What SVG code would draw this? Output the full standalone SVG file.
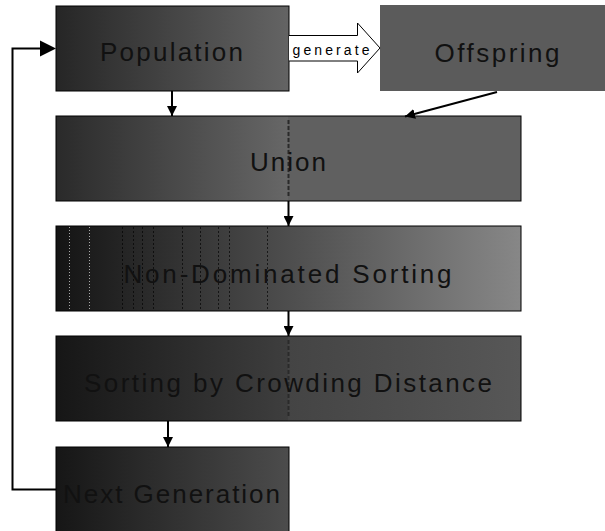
<svg xmlns="http://www.w3.org/2000/svg" width="605" height="531" viewBox="0 0 605 531">
<style>
.box{stroke:#000;stroke-width:1}
.lbl{font-family:"Liberation Sans","Noto Sans CJK KR",sans-serif;font-size:26px;fill:#111;text-anchor:middle}
.sm{font-family:"Liberation Sans","Noto Sans CJK KR",sans-serif;font-size:14px;fill:#000;text-anchor:middle}
.conn{stroke:#000;stroke-width:2;fill:none}
.dash{stroke:#2a2a2a;stroke-width:2;stroke-dasharray:4 2}
.dot{stroke:#fff;stroke-width:0.8;stroke-dasharray:1 2;opacity:0.8}
.dotd{stroke:#000;stroke-width:0.8;stroke-dasharray:2 2;opacity:0.8}
</style>
<defs>
<linearGradient id="gPop" x1="0" x2="1" y1="0" y2="0"><stop offset="0" stop-color="#262626"/><stop offset="1" stop-color="#646464"/></linearGradient>
<linearGradient id="gUni" x1="0" x2="1" y1="0" y2="0"><stop offset="0" stop-color="#2a2a2a"/><stop offset="0.5" stop-color="#676767"/><stop offset="0.5" stop-color="#606060"/><stop offset="1" stop-color="#606060"/></linearGradient>
<linearGradient id="gNds" x1="0" x2="1" y1="0" y2="0"><stop offset="0" stop-color="#141414"/><stop offset="1" stop-color="#878787"/></linearGradient>
<linearGradient id="gScd" x1="0" x2="1" y1="0" y2="0"><stop offset="0" stop-color="#161616"/><stop offset="0.5" stop-color="#3e3e3e"/><stop offset="0.5" stop-color="#444"/><stop offset="1" stop-color="#575757"/></linearGradient>
<linearGradient id="gNg" x1="0" x2="1" y1="0" y2="0"><stop offset="0" stop-color="#161616"/><stop offset="1" stop-color="#4c4c4c"/></linearGradient>
<marker id="ah" viewBox="0 0 10 10" refX="10" refY="5" markerWidth="5" markerHeight="5" orient="auto" markerUnits="strokeWidth"><path d="M0,0 L10,5 L0,10 z" fill="#000"/></marker>
</defs>
<rect width="605" height="531" fill="#fff"/>
<g id="population"><rect class="box" x="56" y="6" width="233" height="85" fill="url(#gPop)"/><text class="lbl" x="171.5" y="61" textLength="143" lengthAdjust="spacing">Population</text></g>
<g id="offspring"><rect x="380" y="5" width="226" height="86" fill="#5b5b5b"/><text class="lbl" x="497" y="62" textLength="125" lengthAdjust="spacing">Offspring</text></g>
<g id="union"><rect class="box" x="56" y="116" width="465" height="85" fill="url(#gUni)"/><line class="dash" x1="288.5" y1="120" x2="288.5" y2="197"/><text class="lbl" x="288" y="171" textLength="76" lengthAdjust="spacing">Union</text></g>
<g id="nds"><rect class="box" x="56" y="226" width="465" height="85" fill="url(#gNds)"/>
<g><line class="dot" x1="69.5" y1="227" x2="69.5" y2="310"/><line class="dot" x1="89.5" y1="227" x2="89.5" y2="310"/><line class="dotd" x1="122.5" y1="227" x2="122.5" y2="310"/><line class="dotd" x1="133.5" y1="227" x2="133.5" y2="310"/><line class="dotd" x1="142.5" y1="227" x2="142.5" y2="310"/><line class="dotd" x1="153.5" y1="227" x2="153.5" y2="310"/><line class="dotd" x1="182.5" y1="227" x2="182.5" y2="310"/><line class="dotd" x1="200.5" y1="227" x2="200.5" y2="310"/><line class="dotd" x1="218.5" y1="227" x2="218.5" y2="310"/><line class="dotd" x1="229.5" y1="227" x2="229.5" y2="310"/><line class="dotd" x1="267.5" y1="227" x2="267.5" y2="310"/></g>
<text class="lbl" x="287.5" y="283" textLength="328" lengthAdjust="spacing">Non-Dominated Sorting</text></g>
<g id="scd"><rect class="box" x="56" y="336" width="465" height="85" fill="url(#gScd)"/><line class="dash" x1="288.5" y1="340" x2="288.5" y2="417"/><text class="lbl" x="288" y="392" textLength="408" lengthAdjust="spacing">Sorting by Crowding Distance</text></g>
<g id="nextgen"><rect class="box" x="56" y="447" width="233" height="90" fill="url(#gNg)"/><text class="lbl" x="171.5" y="503" textLength="217" lengthAdjust="spacing">Next Generation</text></g>
<g id="connectors">
<path d="M289,35.5 H357.5 V23 L380,48 L357.5,73 V61 H289" fill="#fff" stroke="#000" stroke-width="1"/>
<text class="sm" x="331" y="55" textLength="77" lengthAdjust="spacing">generate</text>
<line class="conn" x1="172" y1="91" x2="172" y2="116" marker-end="url(#ah)"/>
<line class="conn" x1="497" y1="92" x2="405" y2="116.5" marker-end="url(#ah)"/>
<line class="conn" x1="288.5" y1="201" x2="288.5" y2="226" marker-end="url(#ah)"/>
<line class="conn" x1="288.5" y1="311" x2="288.5" y2="336" marker-end="url(#ah)"/>
<line class="conn" x1="168" y1="421" x2="168" y2="447" marker-end="url(#ah)"/>
<path class="conn" d="M56,489.5 H12.5 V48.5 H40"/>
<path d="M40,40.5 L56,48.5 L40,56.5 z" fill="#000"/>
</g>
</svg>
